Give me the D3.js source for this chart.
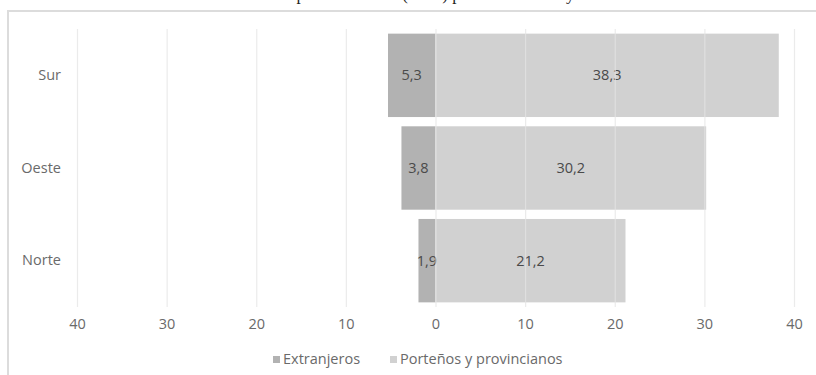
<!DOCTYPE html>
<html>
<head>
<meta charset="utf-8">
<script src="https://cdn.jsdelivr.net/npm/d3@7"></script>
<style>
  html, body { margin: 0; padding: 0; background: #ffffff; }
  svg { display: block; }
  text { font-family: "Open Sans", "Liberation Sans", sans-serif; }
</style>
</head>
<body>
<svg id="chart" width="816" height="375"></svg>
<script>
const categories = ["Sur", "Oeste", "Norte"];
const extranjeros = [5.3, 3.8, 1.9];
const portenos = [38.3, 30.2, 21.2];
const tickValues = [-40, -30, -20, -10, 0, 10, 20, 30, 40];
const seriesNames = ["Extranjeros", "Porteños y provincianos"];
const seriesColors = ["#b2b2b2", "#d1d1d1"];
const titleText = "Distribución de la población total (en %) por zona urbana y nacionalidad";

const svg = d3.select("#chart");
const W = 816, H = 375;

// title (cut off at top of the picture, as in the reference)
svg.append("text")
  .attr("x", 418).attr("y", 0)
  .attr("text-anchor", "middle")
  .style("font-family", "'Liberation Serif', 'DejaVu Serif', serif")
  .style("font-size", "17px")
  .attr("fill", "#222")
  .text(titleText);

// chart frame
svg.append("rect")
  .attr("x", 8).attr("y", 11)
  .attr("width", W + 10).attr("height", H + 10)
  .attr("fill", "#ffffff")
  .attr("stroke", "#dcdcdc").attr("stroke-width", 2);

const x = d3.scaleLinear().domain([-40, 40]).range([77, 794]);
const y = d3.scaleBand().domain(categories).range([29, 307]).paddingInner(0.1).paddingOuter(0.05);

const data = categories.map((c, i) => ({ cat: c, ext: extranjeros[i], por: portenos[i] }));

// bars
const g = svg.append("g");
g.selectAll("rect.ext").data(data).join("rect")
  .attr("class", "ext")
  .attr("x", d => x(-d.ext)).attr("width", d => x(0) - x(-d.ext))
  .attr("y", d => y(d.cat)).attr("height", y.bandwidth())
  .attr("fill", seriesColors[0]);
g.selectAll("rect.por").data(data).join("rect")
  .attr("class", "por")
  .attr("x", x(0)).attr("width", d => x(d.por) - x(0))
  .attr("y", d => y(d.cat)).attr("height", y.bandwidth())
  .attr("fill", seriesColors[1]);

// gridlines (drawn over bars, faint)
const grid = d3.axisBottom(x).tickValues(tickValues).tickSize(-(307 - 29)).tickFormat("");
svg.append("g")
  .attr("transform", `translate(0,307)`)
  .call(grid)
  .call(s => s.select(".domain").remove())
  .call(s => s.selectAll("line").attr("stroke", "#e4e4e4").attr("stroke-opacity", 0.75).attr("stroke-width", 1.2));

// data labels
const fmt = v => d3.format(".1f")(v).replace(".", ",");
g.selectAll("text.extl").data(data).join("text")
  .attr("class", "extl")
  .attr("x", d => (x(-d.ext) + x(0)) / 2)
  .attr("y", d => y(d.cat) + y.bandwidth() / 2)
  .attr("dy", "0.35em")
  .attr("text-anchor", "middle")
  .attr("fill", "#4a4a4a").style("font-size", "14.5px")
  .text(d => fmt(d.ext));
g.selectAll("text.porl").data(data).join("text")
  .attr("class", "porl")
  .attr("x", d => (x(0) + x(d.por)) / 2)
  .attr("y", d => y(d.cat) + y.bandwidth() / 2)
  .attr("dy", "0.35em")
  .attr("text-anchor", "middle")
  .attr("fill", "#4a4a4a").style("font-size", "14.5px")
  .text(d => fmt(d.por));

// x axis labels
const xAxis = d3.axisBottom(x).tickValues(tickValues).tickSize(0).tickPadding(12)
  .tickFormat(v => String(Math.abs(v)));
svg.append("g")
  .attr("transform", `translate(0,307)`)
  .call(xAxis)
  .call(s => s.select(".domain").remove())
  .call(s => s.selectAll("text").attr("fill", "#6a6a6a").style("font-size", "14.5px").style("font-family", "'Open Sans', sans-serif"));

// y axis labels
const yAxis = d3.axisLeft(y).tickSize(0).tickPadding(0);
svg.append("g")
  .attr("transform", `translate(61,0)`)
  .call(yAxis)
  .call(s => s.select(".domain").remove())
  .call(s => s.selectAll("text").attr("fill", "#6a6a6a").style("font-size", "14.5px").style("font-family", "'Open Sans', sans-serif"));

// legend
const legendX = [273, 390];
const lg = svg.append("g");
seriesNames.forEach((n, i) => {
  lg.append("rect").attr("x", legendX[i]).attr("y", 356).attr("width", 7).attr("height", 7).attr("fill", seriesColors[i]);
  lg.append("text").attr("x", legendX[i] + 10).attr("y", 359).attr("dy", "0.35em")
    .attr("fill", "#6a6a6a").style("font-size", "14.5px").text(n);
});
</script>
</body>
</html>
